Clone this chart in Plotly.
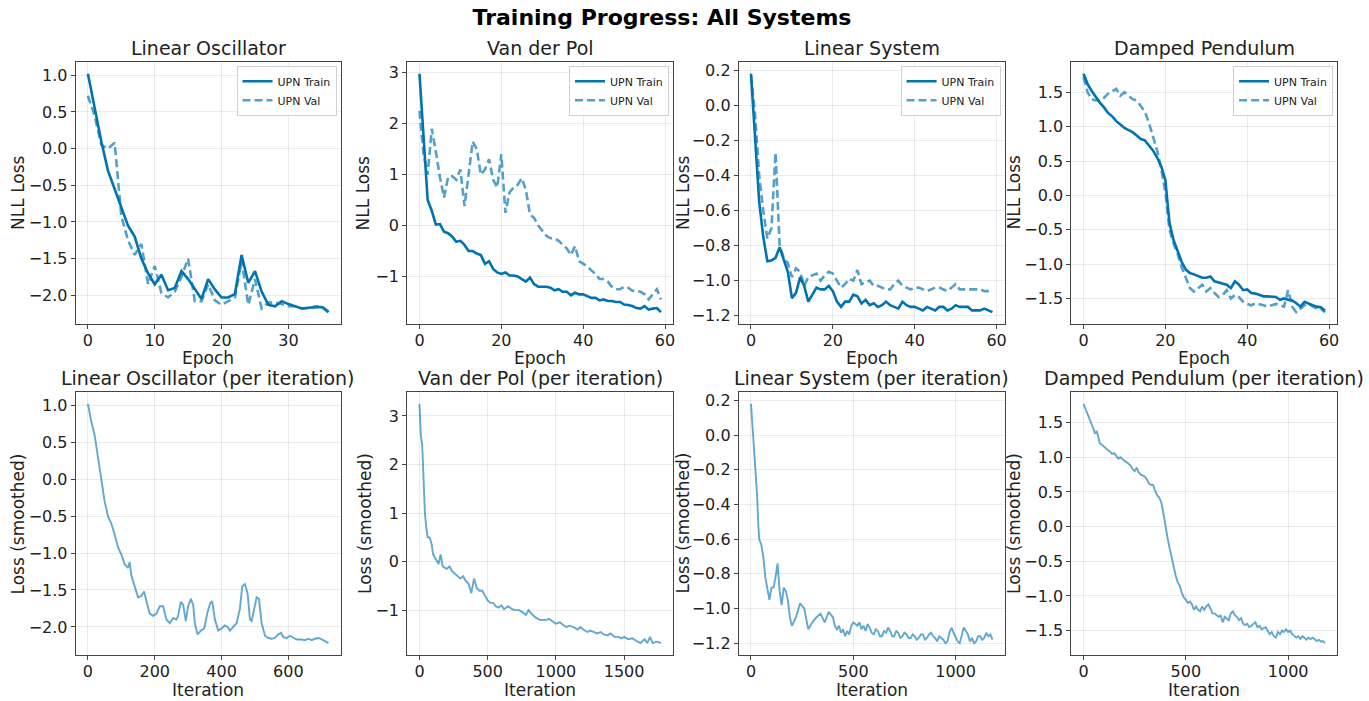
import plotly.graph_objects as go

# ---------------- data ----------------
lo_train = [1.02, 0.55, 0.10, -0.30, -0.55, -0.80, -1.05, -1.20, -1.50, -1.70,
            -1.85, -1.72, -1.93, -1.90, -1.67, -1.78, -1.92, -2.05, -1.78, -1.92,
            -2.03, -2.03, -1.98, -1.45, -1.83, -1.67, -1.95, -2.13, -2.15, -2.08,
            -2.12, -2.15, -2.18, -2.17, -2.17, -2.16, -2.23]
lo_val = [0.72, 0.45, 0.05, 0.00, 0.08, -0.92, -1.25, -1.45, -1.30, -1.85,
          -1.60, -1.97, -2.03, -1.95, -1.75, -1.50, -2.08, -2.08, -1.85, -2.07,
          -2.13, -2.08, -2.03, -1.53, -2.13, -1.78, -2.18, -2.10, -2.10, -2.12,
          -2.15, -2.15, -2.18, -2.18, -2.15, -2.15, -2.22]

vdp_train = [2.98, 1.65, 0.50, 0.29, 0.02, 0.03, -0.12, -0.15, -0.22, -0.32,
             -0.30, -0.38, -0.50, -0.50, -0.55, -0.58, -0.75, -0.70, -0.85, -0.92,
             -0.95, -0.92, -0.98, -0.98, -1.00, -1.05, -1.10, -1.02, -1.15, -1.20,
             -1.20, -1.20, -1.22, -1.27, -1.25, -1.30, -1.30, -1.37, -1.32, -1.35,
             -1.35, -1.38, -1.42, -1.42, -1.47, -1.45, -1.48, -1.48, -1.50, -1.50,
             -1.55, -1.56, -1.58, -1.62, -1.63, -1.58, -1.65, -1.63, -1.62, -1.70]
vdp_val = [2.25, 1.40, 1.00, 1.90, 1.45, 0.95, 0.55, 0.95, 0.97, 0.90,
           1.10, 0.38, 1.00, 1.65, 1.50, 1.00, 1.10, 1.30, 0.90, 0.75,
           1.40, 0.25, 0.65, 0.75, 0.80, 0.93, 0.70, 0.22, 0.15, 0.00,
           -0.10, -0.20, -0.25, -0.25, -0.30, -0.38, -0.45, -0.58, -0.40, -0.70,
           -0.75, -0.80, -0.88, -0.95, -1.05, -1.05, -1.10, -1.20, -1.25, -1.25,
           -1.20, -1.22, -1.28, -1.28, -1.30, -1.35, -1.45, -1.35, -1.25, -1.45]

ls_train = [0.18, -0.20, -0.55, -0.75, -0.89, -0.885, -0.87, -0.81, -0.88, -0.95,
            -1.10, -1.07, -0.98, -1.03, -1.12, -1.08, -1.04, -1.05, -1.05, -1.03,
            -1.06, -1.12, -1.15, -1.12, -1.12, -1.08, -1.09, -1.13, -1.11, -1.14,
            -1.13, -1.15, -1.14, -1.12, -1.14, -1.15, -1.16, -1.12, -1.14, -1.15,
            -1.15, -1.16, -1.17, -1.15, -1.16, -1.17, -1.15, -1.15, -1.17, -1.16,
            -1.14, -1.15, -1.15, -1.15, -1.17, -1.17, -1.17, -1.16, -1.17, -1.18]
ls_val = [0.17, -0.05, -0.40, -0.60, -0.76, -0.70, -0.27, -0.80, -0.87, -0.90,
          -0.98, -0.93, -0.95, -1.03, -0.98, -0.97, -0.96, -1.00, -0.97, -0.95,
          -0.96, -1.00, -1.04, -1.02, -0.99, -1.00, -0.94, -1.02, -1.01, -1.00,
          -1.03, -1.03, -1.04, -1.05, -1.05, -1.02, -1.00, -1.03, -1.04, -1.05,
          -1.04, -1.04, -1.05, -1.06, -1.05, -1.04, -1.04, -1.05, -1.06, -1.04,
          -1.02, -1.05, -1.05, -1.05, -1.05, -1.05, -1.05, -1.06, -1.06, -1.06]

dp_train = [1.77, 1.62, 1.52, 1.43, 1.35, 1.28, 1.20, 1.15, 1.08, 1.03,
            0.98, 0.95, 0.92, 0.87, 0.82, 0.80, 0.73, 0.65, 0.55, 0.42,
            0.22, -0.40, -0.65, -0.80, -0.97, -1.08, -1.13, -1.15, -1.17, -1.20,
            -1.20, -1.18, -1.25, -1.27, -1.28, -1.30, -1.35, -1.25, -1.30, -1.38,
            -1.37, -1.42, -1.43, -1.45, -1.47, -1.47, -1.48, -1.48, -1.52, -1.50,
            -1.52, -1.53, -1.57, -1.62, -1.55, -1.58, -1.60, -1.62, -1.63, -1.68]
dp_val = [1.72, 1.50, 1.40, 1.38, 1.38, 1.42, 1.48, 1.52, 1.55, 1.45,
          1.50, 1.45, 1.40, 1.38, 1.30, 1.22, 1.05, 0.85, 0.65, 0.38,
          0.05, -0.50, -0.70, -0.85, -1.05, -1.20, -1.35, -1.40, -1.35, -1.30,
          -1.40, -1.35, -1.42, -1.48, -1.45, -1.38, -1.50, -1.45, -1.48, -1.55,
          -1.58, -1.60, -1.57, -1.58, -1.60, -1.62, -1.60, -1.58, -1.60, -1.62,
          -1.38, -1.62, -1.70, -1.65, -1.60, -1.58, -1.62, -1.65, -1.65, -1.70]

# per-iteration (smoothed) curves: iteration index and value
lo_it_x = [0, 10, 20, 30, 40, 50, 60, 70, 80, 90, 100, 110, 120, 125, 130, 140, 150, 160, 168,
           175, 185, 195, 205, 215, 225, 235, 245, 255, 265, 270, 278, 285, 293, 300, 308, 315,
           320, 328, 338, 348, 358, 366, 372, 380, 390, 400, 410, 418, 425, 435, 445, 455, 462,
           470, 478, 485, 490, 498, 505, 512, 520, 530, 540, 550, 560, 570, 578, 585, 595, 605,
           615, 625, 640, 650, 660, 670, 680, 690, 700, 710, 720]
lo_it_y = [1.02, 0.78, 0.60, 0.30, 0.00, -0.30, -0.50, -0.60, -0.75, -0.92, -1.02, -1.15, -1.20,
           -1.12, -1.30, -1.45, -1.60, -1.58, -1.52, -1.65, -1.82, -1.85, -1.82, -1.72, -1.72,
           -1.90, -1.95, -1.88, -1.90, -1.85, -1.66, -1.70, -1.92, -1.72, -1.62, -1.70, -1.95,
           -2.10, -2.05, -2.02, -1.80, -1.68, -1.65, -1.90, -2.05, -2.02, -1.98, -2.00, -2.05,
           -2.00, -1.95, -1.75, -1.45, -1.42, -1.55, -1.90, -1.92, -1.75, -1.60, -1.62, -1.95,
           -2.12, -2.15, -2.16, -2.15, -2.10, -2.08, -2.14, -2.15, -2.12, -2.14, -2.17, -2.17,
           -2.18, -2.16, -2.18, -2.16, -2.15, -2.17, -2.19, -2.22]

vdp_it_x = [0, 10, 20, 30, 40, 50, 60, 75, 90, 100, 120, 140, 155, 170, 200, 220, 240, 260,
            280, 300, 320, 340, 360, 380, 400, 420, 440, 460, 480, 500, 520, 540, 560, 580,
            600, 620, 650, 680, 700, 730, 760, 780, 800, 820, 850, 880, 900, 930, 950, 980,
            1000, 1030, 1050, 1080, 1100, 1130, 1160, 1180, 1200, 1230, 1250, 1280, 1300,
            1330, 1350, 1380, 1400, 1430, 1460, 1480, 1500, 1530, 1560, 1600, 1620, 1650,
            1670, 1690, 1710, 1740, 1770]
vdp_it_y = [3.25, 2.60, 2.40, 1.70, 1.00, 0.70, 0.50, 0.50, 0.35, 0.15, 0.05, -0.05, 0.15,
            -0.10, -0.15, -0.10, -0.20, -0.25, -0.30, -0.35, -0.30, -0.40, -0.45, -0.65, -0.35,
            -0.55, -0.60, -0.60, -0.70, -0.80, -0.85, -0.85, -0.92, -0.95, -0.90, -0.98, -0.92,
            -0.98, -1.00, -1.00, -1.05, -1.10, -1.00, -1.07, -1.15, -1.20, -1.20, -1.20, -1.18,
            -1.25, -1.28, -1.25, -1.30, -1.35, -1.32, -1.35, -1.40, -1.35, -1.40, -1.45, -1.42,
            -1.45, -1.48, -1.45, -1.50, -1.52, -1.48, -1.55, -1.55, -1.58, -1.55, -1.60, -1.58,
            -1.65, -1.68, -1.60, -1.68, -1.55, -1.68, -1.65, -1.68]

ls_it_x = [0, 10, 15, 20, 30, 35, 40, 50, 60, 70, 80, 90, 100, 110, 120, 130, 140, 150, 160,
           170, 180, 190, 200, 220, 240, 260, 280, 300, 320, 340, 360, 380,
           400, 410, 420, 430, 440, 450, 460, 470, 480, 490, 500, 510, 520, 530, 540, 550,
           560, 570, 580, 590, 600, 610, 620, 630, 640, 650, 660, 670, 680, 690, 700, 710,
           720, 730, 740, 750, 760, 770, 780, 790, 800, 810, 820, 830, 840, 850, 860, 870,
           880, 890, 900, 910, 920, 930, 940, 950, 960, 970, 980, 990, 1000, 1010, 1020,
           1030, 1040, 1050, 1060, 1070, 1080, 1090, 1100, 1110, 1120, 1130, 1140, 1150,
           1160, 1170, 1180]
ls_it_y = [0.18, 0.00, -0.05, -0.15, -0.35, -0.50, -0.60, -0.63, -0.70, -0.82, -0.88, -0.95,
           -0.88, -0.88, -0.82, -0.74, -0.90, -0.98, -0.88, -0.90, -0.95, -1.05, -1.10, -1.05,
           -0.97, -1.00, -1.12, -1.08, -1.05, -1.03, -1.08, -1.02,
           -1.05, -1.10, -1.12, -1.10, -1.14, -1.12, -1.16, -1.13, -1.15, -1.10, -1.08, -1.09,
           -1.10, -1.08, -1.12, -1.10, -1.13, -1.09, -1.11, -1.14, -1.15, -1.12, -1.13, -1.16,
           -1.16, -1.13, -1.14, -1.11, -1.13, -1.16, -1.16, -1.13, -1.14, -1.17, -1.16, -1.14,
           -1.15, -1.17, -1.17, -1.15, -1.16, -1.18, -1.17, -1.15, -1.15, -1.18, -1.17, -1.15,
           -1.14, -1.16, -1.17, -1.19, -1.16, -1.17, -1.18, -1.20, -1.19, -1.14, -1.11, -1.14,
           -1.17, -1.19, -1.20, -1.15, -1.11, -1.13, -1.15, -1.19, -1.17, -1.20, -1.19, -1.16,
           -1.16, -1.18, -1.17, -1.14, -1.16, -1.15, -1.18]

dp_it_x = [0, 10, 20, 30, 40, 50, 55, 65, 70, 80, 90, 100, 110, 120, 130, 140, 150, 160, 170,
           180, 190, 200, 210, 220, 230, 240, 250, 260, 270, 280, 290, 300, 310, 320, 330, 340,
           350, 360, 370, 380, 390, 400, 410, 420, 430, 440, 450, 460, 470, 480, 490, 500, 510,
           520, 530, 540, 550, 560, 570, 580, 590, 600, 610, 620, 630, 640, 650, 660, 670, 680,
           690, 700, 710, 720, 730, 740, 750, 760, 770, 780, 790, 800, 810, 820, 830, 840, 850,
           860, 870, 880, 890, 900, 910, 920, 930, 940, 950, 960, 970, 980, 990, 1000, 1010,
           1020, 1030, 1040, 1050, 1060, 1070, 1080, 1090, 1100, 1110, 1120, 1130, 1140, 1150,
           1160, 1170, 1180]
dp_it_y = [1.77, 1.70, 1.62, 1.55, 1.48, 1.40, 1.35, 1.37, 1.32, 1.20, 1.18, 1.15, 1.12, 1.10,
           1.08, 1.05, 1.06, 1.02, 0.98, 1.00, 0.97, 0.95, 0.93, 0.90, 0.88, 0.83, 0.80, 0.85,
           0.78, 0.75, 0.73, 0.72, 0.68, 0.62, 0.60, 0.60, 0.52, 0.45, 0.42, 0.35, 0.20, 0.00,
           -0.15, -0.30, -0.45, -0.55, -0.70, -0.80, -0.85, -0.95, -1.02, -1.05, -1.10, -1.08,
           -1.12, -1.20, -1.15, -1.20, -1.22, -1.15, -1.20, -1.15, -1.12, -1.18, -1.25, -1.25,
           -1.28, -1.30, -1.28, -1.38, -1.30, -1.32, -1.35, -1.25, -1.22, -1.28, -1.30, -1.35,
           -1.32, -1.40, -1.42, -1.40, -1.45, -1.43, -1.40, -1.38, -1.45, -1.43, -1.48, -1.47,
           -1.45, -1.50, -1.55, -1.52, -1.58, -1.60, -1.52, -1.55, -1.50, -1.52, -1.48, -1.52,
           -1.50, -1.55, -1.58, -1.60, -1.58, -1.62, -1.58, -1.60, -1.63, -1.60, -1.62, -1.60,
           -1.63, -1.65, -1.63, -1.66, -1.65, -1.68]

top_titles = ["Linear Oscillator", "Van der Pol", "Linear System", "Damped Pendulum"]
bottom_titles = [t + " (per iteration)" for t in top_titles]
epoch_series = [(lo_train, lo_val), (vdp_train, vdp_val), (ls_train, ls_val), (dp_train, dp_val)]
iter_series = [(lo_it_x, lo_it_y), (vdp_it_x, vdp_it_y), (ls_it_x, ls_it_y), (dp_it_x, dp_it_y)]
top_dticks = [(10, 0.5, ".1f"), (20, 1, "d"), (20, 0.2, ".1f"), (20, 0.5, ".1f")]
bot_dticks = [(200, 0.5, ".1f"), (500, 1, "d"), (500, 0.2, ".1f"), (500, 0.5, ".1f")]

# ---------------- styling / layout ----------------
W, H = 1369, 701
FONT = "DejaVu Sans"
C_TRAIN = "#0173B2"
C_VAL = "rgba(1,115,178,0.68)"
C_ITER = "rgba(1,115,178,0.62)"
SPINE = "#444444"
TXT = "#222222"

col_px = [(76, 341), (408, 674), (740, 1006), (1073, 1339)]
row_px = [(61, 324), (392, 656)]
ytitle_px = [[18, 363, 684, 1015], [18, 365, 684, 1015]]
xtitle_y = [358, 691]


def xd(px):
    return [px[0] / W, px[1] / W]


def yd(px):
    return [1 - px[1] / H, 1 - px[0] / H]


def pad(lo, hi):
    r = hi - lo
    return [lo - 0.05 * r, hi + 0.05 * r]


fig = go.Figure()
layout = dict(
    width=W, height=H,
    margin=dict(l=0, r=0, t=0, b=0),
    paper_bgcolor="white", plot_bgcolor="white",
    font=dict(family=FONT, size=16, color=TXT),
    title=dict(text="<b>Training Progress: All Systems</b>", x=662 / W, xanchor="center",
               y=1 - 17 / H, yanchor="middle", font=dict(size=22, color="black", family=FONT)),
    annotations=[],
)


def axis_common(domain, rng, dtick, fmt=None):
    d = dict(domain=domain, range=rng, dtick=dtick, tick0=0,
             showline=True, mirror=True, linecolor=SPINE, linewidth=1.3,
             ticks="outside", ticklen=4, tickwidth=1, tickcolor=SPINE,
             showgrid=True, gridcolor="rgba(0,0,0,0.08)", gridwidth=1,
             zeroline=False, tickfont=dict(size=16, color=TXT))
    if fmt:
        d["tickformat"] = fmt
    return d


def add_text(text, x_px, y_px, size, angle=0, xanchor="center", yanchor="middle"):
    layout["annotations"].append(dict(
        text=text, xref="paper", yref="paper", x=x_px / W, y=1 - y_px / H,
        xanchor=xanchor, yanchor=yanchor, textangle=angle, showarrow=False,
        font=dict(size=size, family=FONT, color=TXT)))


k = 0
for row in range(2):
    for col in range(4):
        k += 1
        xa = "xaxis" if k == 1 else f"xaxis{k}"
        ya = "yaxis" if k == 1 else f"yaxis{k}"
        xref = "x" if k == 1 else f"x{k}"
        yref = "y" if k == 1 else f"y{k}"
        if row == 0:
            tr, va = epoch_series[col]
            ep = list(range(len(tr)))
            leg = "legend" if col == 0 else f"legend{col + 1}"
            fig.add_trace(go.Scatter(x=ep, y=tr, mode="lines", name="UPN Train",
                                     line=dict(color=C_TRAIN, width=2.6),
                                     xaxis=xref, yaxis=yref, legend=leg))
            fig.add_trace(go.Scatter(x=ep, y=va, mode="lines", name="UPN Val",
                                     line=dict(color=C_VAL, width=2.6, dash="8px,4px"),
                                     xaxis=xref, yaxis=yref, legend=leg))
            xr = pad(0, len(tr) - 1)
            yr = pad(min(tr + va), max(tr + va))
            dx, dy, fmt = top_dticks[col]
            layout[leg] = dict(
                x=(col_px[col][1] - 4) / W, xanchor="right",
                y=1 - (row_px[0][0] + 4) / H, yanchor="top",
                bgcolor="rgba(255,255,255,0.85)", bordercolor="#d0d0d0", borderwidth=1,
                font=dict(size=11, family=FONT, color=TXT),
                itemwidth=30, tracegroupgap=0,
            )
            title, xt, yt = top_titles[col], "Epoch", "NLL Loss"
        else:
            ix, iy = iter_series[col]
            fig.add_trace(go.Scatter(x=ix, y=iy, mode="lines", showlegend=False,
                                     line=dict(color=C_ITER, width=1.9),
                                     xaxis=xref, yaxis=yref))
            xr = pad(min(ix), max(ix))
            yr = pad(min(iy), max(iy))
            dx, dy, fmt = bot_dticks[col]
            title, xt, yt = bottom_titles[col], "Iteration", "Loss (smoothed)"
        layout[xa] = axis_common(xd(col_px[col]), xr, dx, None)
        layout[xa]["ticklabelstandoff"] = -2
        layout[ya] = axis_common(yd(row_px[row]), yr, dy, fmt)
        layout[xa]["anchor"] = yref
        layout[ya]["anchor"] = xref
        cx = (col_px[col][0] + col_px[col][1]) / 2
        cy = (row_px[row][0] + row_px[row][1]) / 2
        add_text(title, cx, row_px[row][0] - 1, 19, yanchor="bottom")
        add_text(xt, cx, xtitle_y[row], 17)
        add_text(yt, ytitle_px[row][col], cy, 17, angle=-90)

fig.update_layout(**layout)
fig.write_html("out.html")
